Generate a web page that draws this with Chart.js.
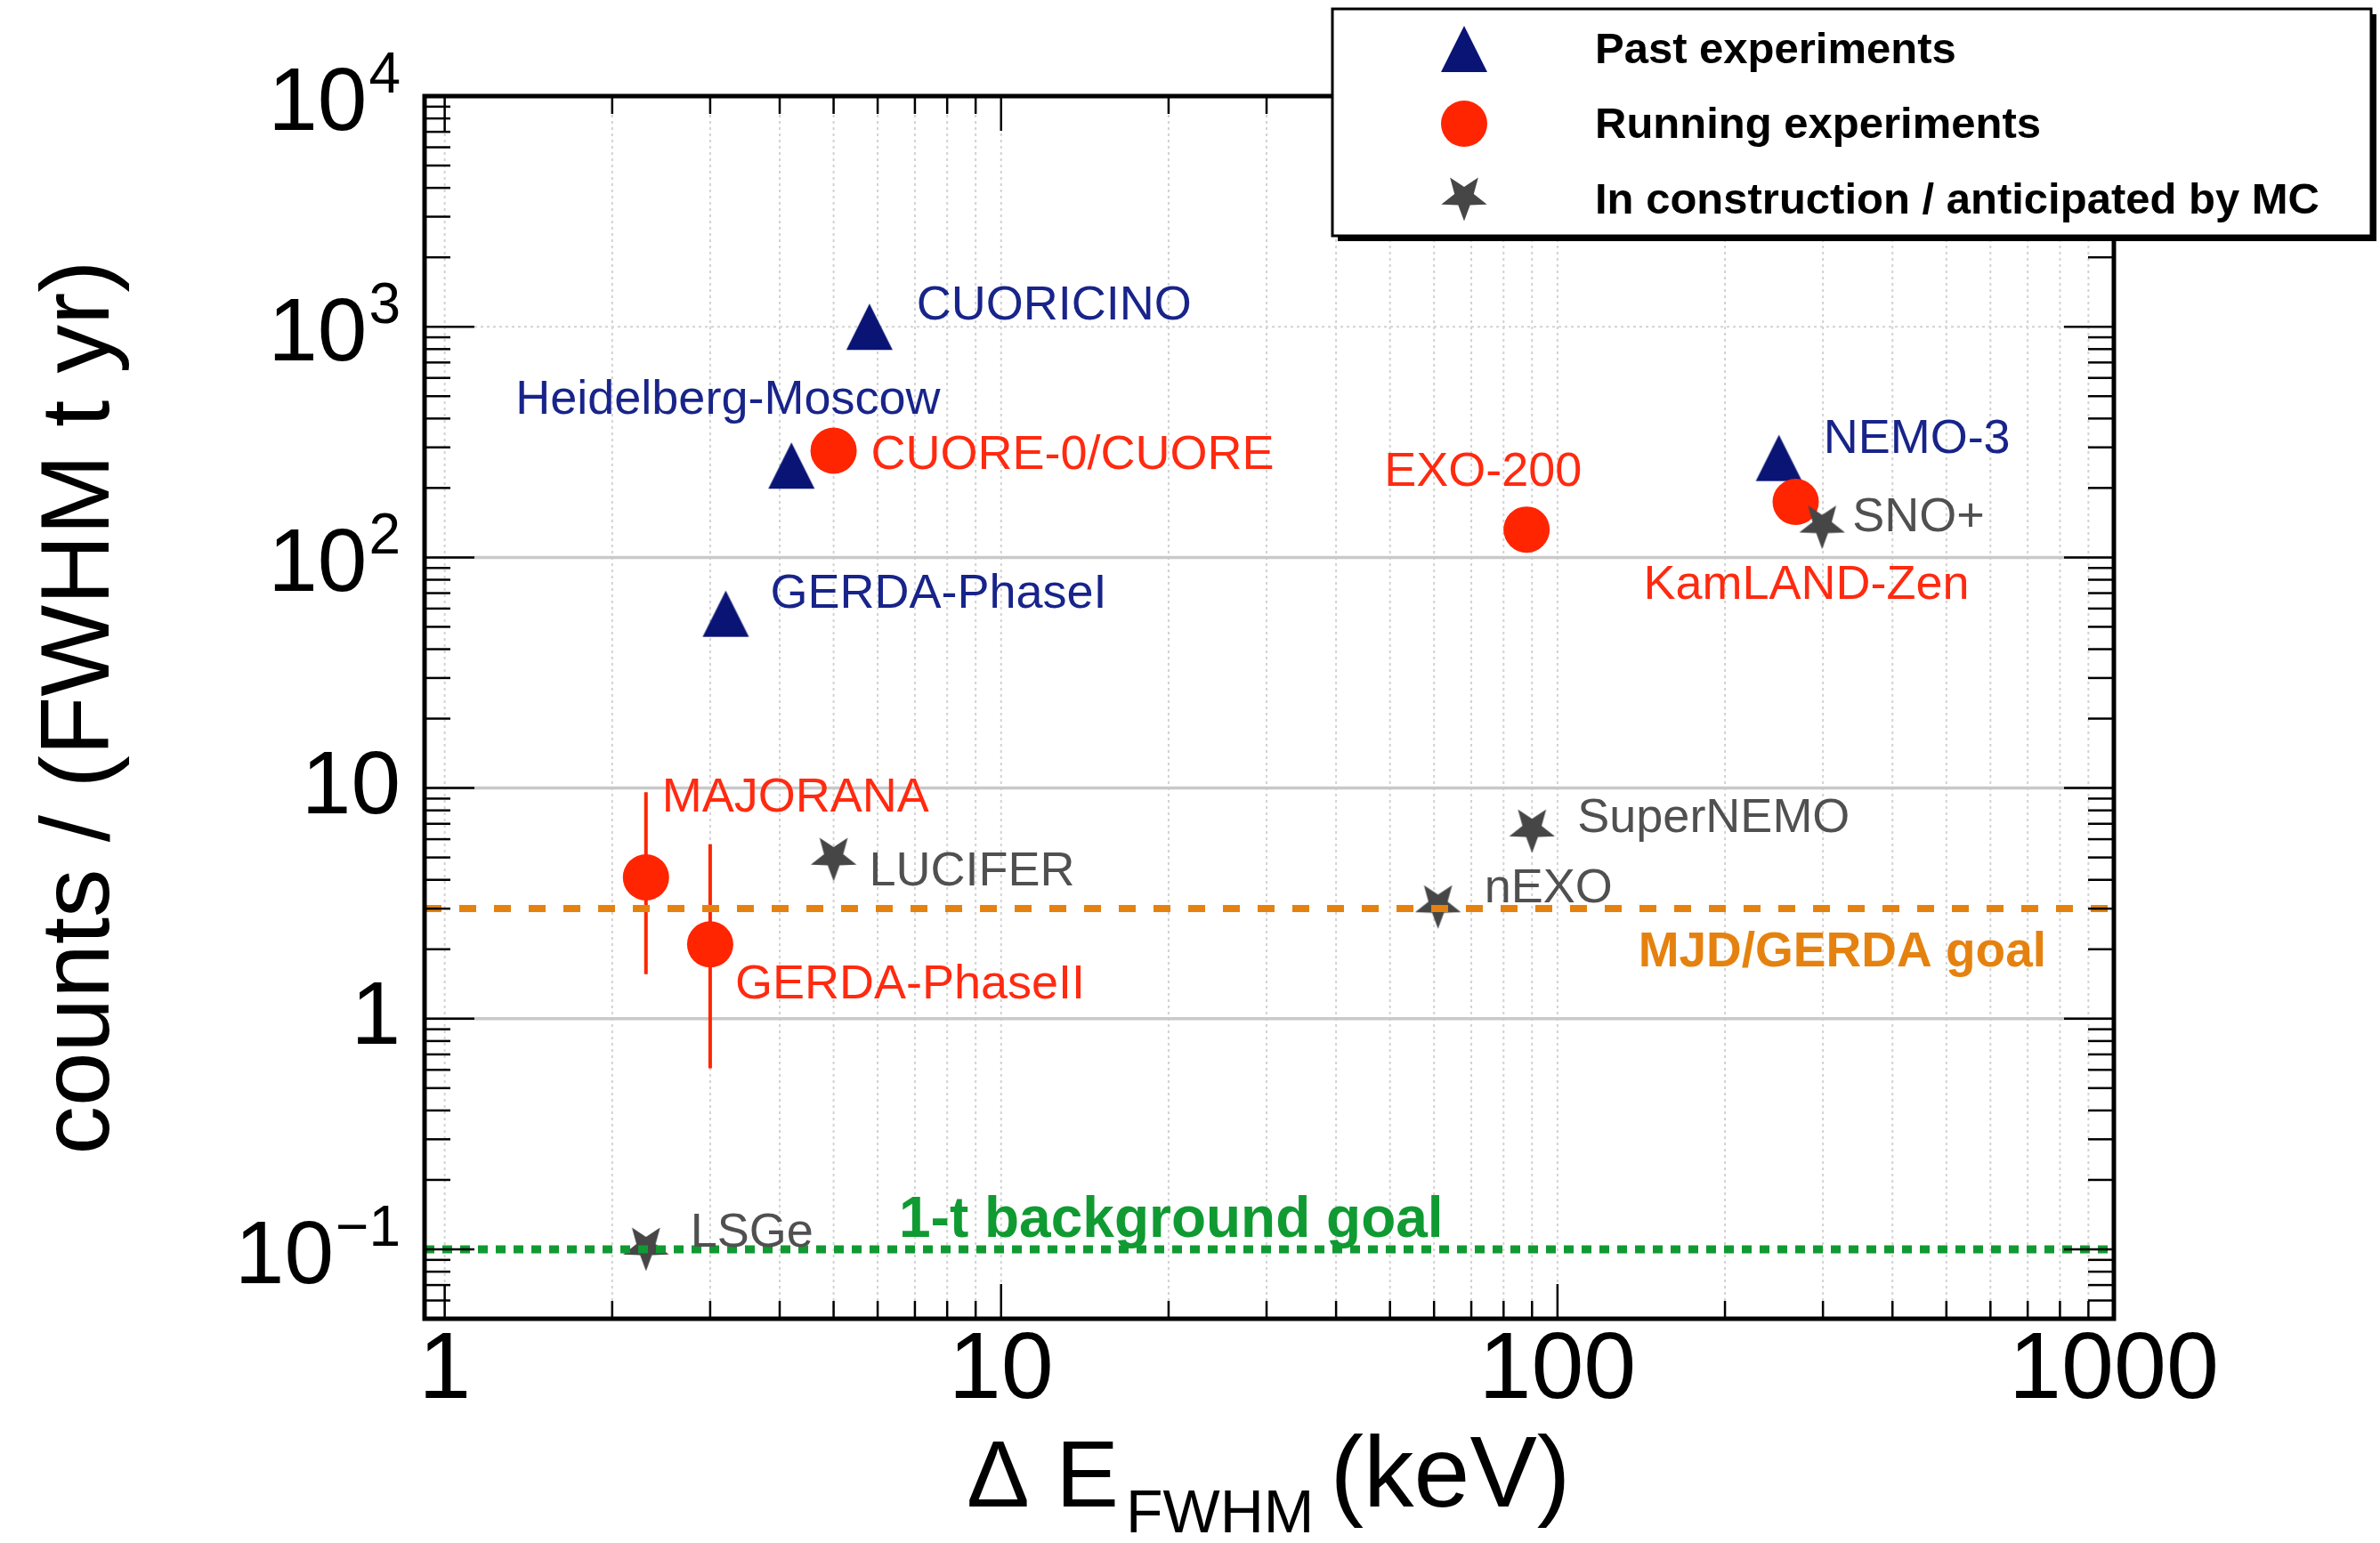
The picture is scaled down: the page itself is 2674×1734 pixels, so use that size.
<!DOCTYPE html>
<html>
<head>
<meta charset="utf-8">
<script src="https://cdn.jsdelivr.net/npm/chart.js@4.4.1/dist/chart.umd.min.js"></script>
<style>
  html, body { margin: 0; padding: 0; background: #fff; }
  canvas { display: block; }
</style>
</head>
<body>
<canvas id="chart" width="2674" height="1734"></canvas>
<script>
// ---- data ----
const seriesNames = ["Past experiments", "Running experiments", "In construction / anticipated by MC"];

const pastNames = ["CUORICINO", "Heidelberg-Moscow", "GERDA-PhaseI", "NEMO-3"];
const pastRes = [5.8, 4.2, 3.2, 250];
const pastBkg = [1000, 250, 57, 270];

const runningNames = ["CUORE-0/CUORE", "EXO-200", "KamLAND-Zen", "MAJORANA", "GERDA-PhaseII"];
const runningRes = [5.0, 88, 268, 2.3, 3.0];
const runningBkg = [290, 132, 174, 4.1, 2.1];
const runningErrLow = [null, null, null, 1.56, 0.61];
const runningErrHigh = [null, null, null, 9.6, 5.7];

const futureNames = ["SNO+", "LUCIFER", "SuperNEMO", "nEXO", "LSGe"];
const futureRes = [299, 5.0, 90, 61, 2.3];
const futureBkg = [135, 4.9, 6.5, 3.05, 0.1];

const goalNames = ["MJD/GERDA goal", "1-t background goal"];
const goalBkg = [3, 0.1];

const xTickValues = [1, 10, 100, 1000];
const xTickLabels = ["1", "10", "100", "1000"];
const yTickValues = [0.1, 1, 10, 100, 1000, 10000];
const yTickBase = ["10", "1", "10", "10", "10", "10"];
const yTickExp = ["\u22121", "", "", "2", "3", "4"];

const X_MIN = 0.92, X_MAX = 1000, Y_MIN = 0.05, Y_MAX = 10000;

// ---- label placement (pixel offsets from each marker) ----
const pastLabelOffsets = [[53, -23], [-310, -73], [50, -22], [50, -20]];
const runningLabelOffsets = [[42, 6], [-160, -64], [-171, 94], [18, -89], [28, 46]];
const futureLabelOffsets = [[34, -10], [40, 14], [51, -14], [52, -20], [50, -18]];

// ---- styles ----
const FONT = '"Liberation Sans", Arial, Helvetica, sans-serif';
const NAVY = "#0a1475";
const NAVY_TEXT = "#18248a";
const RED = "#ff2500";
const RED_TEXT = "#ff2a10";
const GREY = "#464646";
const GREY_TEXT = "#505050";
const ORANGE = "#e5820f";
const GREEN = "#109a32";

function makeTriangle(w, h, color) {
  const c = document.createElement("canvas");
  c.width = w + 2; c.height = h + 2;
  const g = c.getContext("2d");
  g.beginPath();
  g.moveTo(1 + w / 2, 1);
  g.lineTo(1 + w, 1 + h);
  g.lineTo(1, 1 + h);
  g.closePath();
  g.fillStyle = color;
  g.fill();
  return c;
}

function makeStar(R, color) {
  const size = Math.ceil(2 * R + 4);
  const c = document.createElement("canvas");
  c.width = size; c.height = size;
  const g = c.getContext("2d");
  const cx = size / 2, cy = size / 2 - 0.095 * R;
  const r = R * 0.42;
  g.beginPath();
  for (let i = 0; i < 10; i++) {
    const ang = Math.PI / 2 + i * Math.PI / 5; // point-down star
    const rad = i % 2 ? r : R;
    g.lineTo(cx + rad * Math.cos(ang), cy + rad * Math.sin(ang));
  }
  g.closePath();
  g.fillStyle = color;
  g.fill();
  return c;
}

const triImg = makeTriangle(52, 52, NAVY);
const starImg = makeStar(27, GREY);

function minorTicks(lo, hi) {
  const out = [];
  for (let e = Math.floor(Math.log10(lo)) - 1; e <= Math.ceil(Math.log10(hi)); e++) {
    for (let m = 2; m <= 9; m++) {
      const v = m * Math.pow(10, e);
      if (v > lo && v < hi) out.push(v);
    }
  }
  return out;
}
const xMinor = minorTicks(X_MIN, X_MAX);
const yMinor = minorTicks(Y_MIN, Y_MAX);

function pts(xs, ys) { return xs.map((v, i) => ({ x: v, y: ys[i] })); }

function line(ctx, x1, y1, x2, y2) {
  ctx.beginPath(); ctx.moveTo(x1, y1); ctx.lineTo(x2, y2); ctx.stroke();
}

// grid, error bars, frame, labels, legend
const decor = {
  id: "decor",
  beforeDatasetsDraw(chart) {
    const { ctx, chartArea: a, scales: { x, y } } = chart;
    ctx.save();
    // dotted vertical grid on every x tick
    ctx.strokeStyle = "#d2d2d2";
    ctx.lineWidth = 2;
    ctx.setLineDash([3, 4]);
    xMinor.concat(xTickValues).forEach(v => {
      const px = x.getPixelForValue(v);
      if (px > a.left + 2 && px < a.right - 2) line(ctx, px, a.top, px, a.bottom);
    });
    // dotted line at 10^3
    yTickValues.filter(v => v > 100 && v < Y_MAX).forEach(v => {
      const py = y.getPixelForValue(v);
      line(ctx, a.left, py, a.right, py);
    });
    // solid grey lines at 1, 10, 100
    ctx.setLineDash([]);
    ctx.strokeStyle = "#c9c9c9";
    ctx.lineWidth = 3.5;
    yTickValues.filter(v => v >= 1 && v <= 100).forEach(v => {
      const py = y.getPixelForValue(v);
      line(ctx, a.left, py, a.right, py);
    });
    // error bars
    ctx.strokeStyle = RED;
    ctx.lineWidth = 4;
    runningRes.forEach((v, i) => {
      if (runningErrLow[i] == null) return;
      const px = x.getPixelForValue(v);
      line(ctx, px, y.getPixelForValue(runningErrLow[i]), px, y.getPixelForValue(runningErrHigh[i]));
    });
    ctx.restore();
  },
  afterDatasetsDraw(chart) {
    const { ctx, chartArea: a, scales: { x, y } } = chart;
    ctx.save();
    // inner ticks, ROOT style
    ctx.strokeStyle = "#000";
    ctx.lineWidth = 2.5;
    yTickValues.forEach(v => {
      const py = y.getPixelForValue(v);
      line(ctx, a.left, py, a.left + 56, py);
      line(ctx, a.right, py, a.right - 56, py);
    });
    yMinor.forEach(v => {
      const py = y.getPixelForValue(v);
      line(ctx, a.left, py, a.left + 29, py);
      line(ctx, a.right, py, a.right - 29, py);
    });
    xTickValues.forEach(v => {
      const px = x.getPixelForValue(v);
      line(ctx, px, a.bottom, px, a.bottom - 39);
      line(ctx, px, a.top, px, a.top + 39);
    });
    xMinor.forEach(v => {
      const px = x.getPixelForValue(v);
      line(ctx, px, a.bottom, px, a.bottom - 20);
      line(ctx, px, a.top, px, a.top + 20);
    });
    ctx.lineWidth = 5;
    ctx.strokeRect(a.left, a.top, a.right - a.left, a.bottom - a.top);

    // point labels
    ctx.font = "54px " + FONT;
    ctx.textAlign = "left";
    ctx.textBaseline = "middle";
    const put = (names, xs, ys, offs, color) => {
      ctx.fillStyle = color;
      names.forEach((n, i) => {
        const px = x.getPixelForValue(xs[i]) + offs[i][0];
        const py = y.getPixelForValue(ys[i]) + offs[i][1];
        ctx.fillText(n, px, py);
      });
    };
    put(pastNames, pastRes, pastBkg, pastLabelOffsets, NAVY_TEXT);
    put(runningNames, runningRes, runningBkg, runningLabelOffsets, RED_TEXT);
    put(futureNames, futureRes, futureBkg, futureLabelOffsets, GREY_TEXT);

    // goal labels
    ctx.font = "bold 55px " + FONT;
    ctx.fillStyle = ORANGE;
    ctx.textAlign = "right";
    ctx.fillText(goalNames[0], a.right - 76, y.getPixelForValue(goalBkg[0]) + 50);
    ctx.font = "bold 64px " + FONT;
    ctx.fillStyle = GREEN;
    ctx.textAlign = "left";
    ctx.fillText(goalNames[1], a.left + 533, y.getPixelForValue(goalBkg[1]) - 32);
    ctx.restore();
  },
  afterDraw(chart) {
    const { ctx, chartArea: a, scales: { x, y } } = chart;
    ctx.save();
    ctx.fillStyle = "#000";

    // x tick labels
    ctx.font = "106px " + FONT;
    ctx.textAlign = "center";
    ctx.textBaseline = "middle";
    xTickValues.forEach((v, i) => {
      ctx.fillText(xTickLabels[i], x.getPixelForValue(v), a.bottom + 60);
    });

    // y tick labels with superscripts
    const right = a.left - 27;
    yTickValues.forEach((v, i) => {
      const py = y.getPixelForValue(v);
      ctx.textAlign = "right";
      ctx.textBaseline = "middle";
      if (yTickExp[i]) {
        ctx.font = "64px " + FONT;
        const w = ctx.measureText(yTickExp[i]).width;
        ctx.fillText(yTickExp[i], right, py + 10 - 32);
        ctx.font = "100px " + FONT;
        ctx.fillText(yTickBase[i], right - w - 2, py + 10);
      } else {
        ctx.font = "100px " + FONT;
        ctx.fillText(yTickBase[i], right, py + 1);
      }
    });

    // axis titles
    ctx.textBaseline = "alphabetic";
    ctx.textAlign = "left";
    let tx = 1086;
    const base = 1693;
    ctx.font = "106px " + FONT;
    ctx.fillText("\u0394 E", tx, base);
    tx += ctx.measureText("\u0394 E").width + 8;
    ctx.font = "68px " + FONT;
    ctx.fillText("FWHM", tx, base + 29);
    tx += ctx.measureText("FWHM").width + 18;
    ctx.font = "113px " + FONT;
    ctx.fillText("(keV)", tx, base);

    ctx.save();
    ctx.translate(122, 795);
    ctx.rotate(-Math.PI / 2);
    ctx.textAlign = "center";
    ctx.font = "109px " + FONT;
    ctx.fillText("counts / (FWHM t yr)", 0, 0);
    ctx.restore();

    // legend box with shadow
    const L = 1497, T = 10, R = 2664, B = 265;
    ctx.fillStyle = "#000";
    ctx.fillRect(L + 6, T + 6, R - L, B - T);
    ctx.fillStyle = "#fff";
    ctx.fillRect(L, T, R - L, B - T);
    ctx.strokeStyle = "#000";
    ctx.lineWidth = 3;
    ctx.strokeRect(L, T, R - L, B - T);

    const mx = 1645, rows = [55, 139, 224];
    ctx.drawImage(triImg, mx - triImg.width / 2, rows[0] - triImg.height / 2);
    ctx.fillStyle = RED;
    ctx.beginPath();
    ctx.arc(mx, rows[1], 26, 0, Math.PI * 2);
    ctx.fill();
    ctx.drawImage(starImg, mx - starImg.width / 2, rows[2] - starImg.height / 2);

    ctx.fillStyle = "#000";
    ctx.font = "bold 49px " + FONT;
    ctx.textAlign = "left";
    ctx.textBaseline = "middle";
    seriesNames.forEach((n, i) => ctx.fillText(n, 1792, rows[i] + 2));
    ctx.restore();
  }
};

new Chart(document.getElementById("chart"), {
  type: "scatter",
  data: {
    datasets: [
      {
        label: seriesNames[0],
        data: pts(pastRes, pastBkg),
        pointStyle: triImg,
        order: 4
      },
      {
        label: seriesNames[1],
        data: pts(runningRes, runningBkg),
        pointStyle: "circle",
        pointRadius: 26,
        backgroundColor: RED,
        borderWidth: 0,
        order: 3
      },
      {
        label: seriesNames[2],
        data: pts(futureRes, futureBkg),
        pointStyle: starImg,
        order: 2
      },
      {
        label: goalNames[0],
        data: [{ x: X_MIN, y: goalBkg[0] }, { x: X_MAX, y: goalBkg[0] }],
        showLine: true,
        borderColor: ORANGE,
        borderWidth: 8,
        borderDash: [19, 20],
        pointRadius: 0,
        order: 1
      },
      {
        label: goalNames[1],
        data: [{ x: X_MIN, y: goalBkg[1] }, { x: X_MAX, y: goalBkg[1] }],
        showLine: true,
        borderColor: GREEN,
        borderWidth: 9,
        borderDash: [11, 9],
        pointRadius: 0,
        order: 1
      }
    ]
  },
  options: {
    responsive: false,
    devicePixelRatio: 1,
    animation: false,
    events: [],
    layout: { padding: { left: 0, right: 299, top: 108, bottom: 0 } },
    plugins: {
      legend: { display: false },
      tooltip: { enabled: false }
    },
    scales: {
      x: {
        type: "logarithmic",
        min: X_MIN,
        max: X_MAX,
        ticks: { display: false },
        grid: { display: false },
        border: { display: false },
        afterFit: s => { s.height = 252; }
      },
      y: {
        type: "logarithmic",
        min: Y_MIN,
        max: Y_MAX,
        ticks: { display: false },
        grid: { display: false },
        border: { display: false },
        afterFit: s => { s.width = 477; }
      }
    }
  },
  plugins: [decor]
});
</script>
</body>
</html>
